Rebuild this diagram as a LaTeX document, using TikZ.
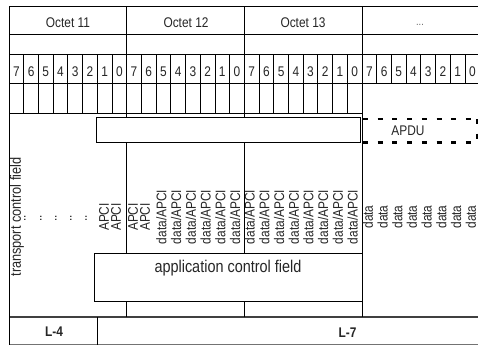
\documentclass[tikz,border=0pt]{standalone}
\usepackage{fontspec}
\setmainfont{Liberation Sans}[FakeStretch=0.85]
\begin{document}
\begin{tikzpicture}[x=1pt,y=-1pt,
  major/.style={line width=1pt, draw=black},
  minor/.style={line width=0.8pt, draw=black},
  txt/.style={inner sep=0pt, text=black!85, font=\fontsize{14}{16}\selectfont},
  rtxt/.style={txt, rotate=90},
  laytxt/.style={txt, font=\fontsize{14}{16}\selectfont\bfseries},
  boxw/.style={major, fill=white, anchor=north west, inner sep=0pt},
  apdudash/.style={line width=2.6pt, draw=black, dash pattern=on 5pt off 9.7pt},
]
\useasboundingbox (0,0) rectangle (478,345);
\clip (0,0) rectangle (478,345);
\fill[white] (0,0) rectangle (478,345);

% horizontal rules
\draw[major] (9,7) -- (482,7);
\draw[major] (9,35) -- (482,35);
\draw[major] (9,54) -- (482,54);
\draw[major] (9,83) -- (482,83);
\draw[major] (9,113) -- (362,113);
\draw[major, draw=black!75, line width=1.2pt] (9,317) -- (482,317);
\draw[major, draw=black!55] (9,344) -- (482,344);

% left border and octet borders
\draw[major] (9,7) -- (9,345);
\draw[major] (126.7,7) -- (126.7,317);
\draw[major] (244.3,7) -- (244.3,317);
\draw[major] (362,7) -- (362,317);
\draw[major] (97,317) -- (97,345);

% bit separators
\foreach \k in {1,...,23} \draw[minor] ({9+14.708*\k},54) -- ({9+14.708*\k},113);
\foreach \k in {25,...,31} \draw[minor] ({9+14.708*\k},54) -- ({9+14.708*\k},83);

% octet titles
\node[txt, anchor=base] (oct11) at (68,27.3) {Octet 11};
\node[txt, anchor=base] (oct12) at (186,27.3) {Octet 12};
\node[txt, anchor=base] (oct13) at (303,27.3) {Octet 13};
\node[txt, anchor=base, text=black!60, font=\fontsize{11}{13}\selectfont] (octmore) at (420,26) {...};

% bit numbers
\foreach \o in {0,...,3} {
  \foreach \b [evaluate=\b as \d using int(7-\b)] in {0,...,7} {
    \node[txt, anchor=base] (bit\o\b) at ({9+117.67*\o+14.708*(\b+0.5)},76) {\d};
  }
}

% upper boxes
\node[boxw, minimum width=264pt, minimum height=25pt] (tcbox) at (96,117) {};
\draw[apdudash] (363,119) -- (482,119);
\draw[apdudash] (363,142.5) -- (482,142.5);
\draw[apdudash] (477,119) -- (477,142.5);
\node[txt, anchor=base] (apdu) at (408,135) {APDU};

% rotated field texts
\node[rtxt, font=\fontsize{15}{17}\selectfont] (tcf) at (17,217) {transport control field};
\foreach \x [count=\i] in {25,41,56,71,86} \node[rtxt] (dot\i) at (\x,218) {..};
\node[rtxt] (apci1) at (104,217) {APCI};
\node[rtxt] (apci2) at (116,217) {APCI};
\node[rtxt] (apci3) at (133,217) {APCI};
\node[rtxt] (apci4) at (145,217) {APCI};
\foreach \b in {2,...,7} \node[rtxt] (da12\b) at ({126.7+14.708*(\b+0.5)-2},217) {data/APCI};
\foreach \b in {0,...,7} \node[rtxt] (da13\b) at ({244.3+14.708*(\b+0.5)-2},217) {data/APCI};
\foreach \b in {0,...,7} \node[rtxt] (dt14\b) at ({362+14.708*(\b+0.5)-1.5},217) {data};

% application control field
\node[boxw, minimum width=268pt, minimum height=48pt] (acbox) at (94,253) {};
\node[txt, anchor=base, font=\fontsize{17}{19}\selectfont] (acf) at (228,272) {application control field};

% layer labels
\node[laytxt, anchor=base] (l4) at (54,336.7) {L-4};
\node[laytxt, anchor=base] (l7) at (347.5,337) {L-7};
\end{tikzpicture}
\end{document}
